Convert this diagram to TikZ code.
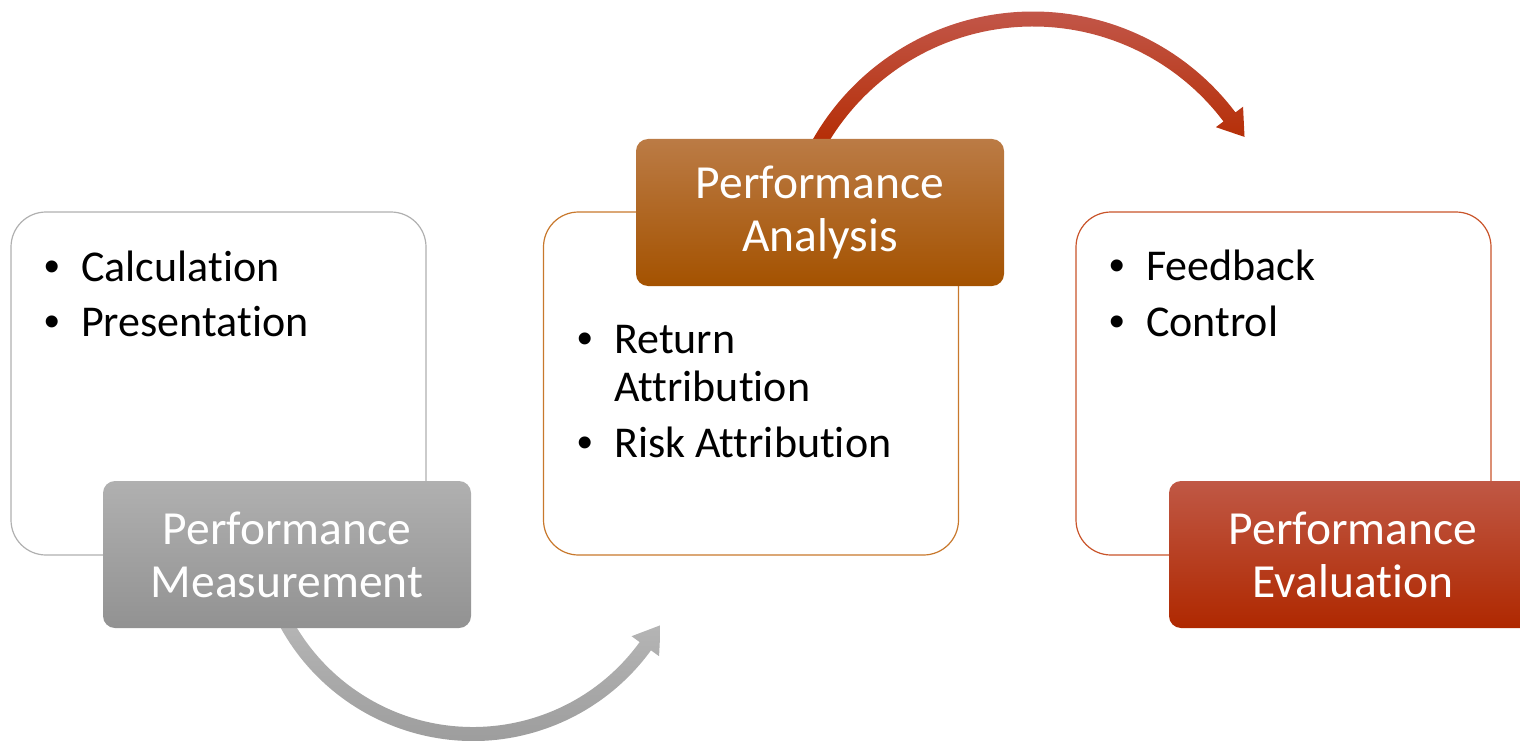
\documentclass[tikz,border=0pt]{standalone}
\usepackage{fontspec}
\setmainfont{Carlito}[Ligatures=NoCommon, RawFeature={-liga;-clig;-calt;-dlig}]
\newfontfamily\bulfont{Liberation Sans}
\usetikzlibrary{calc}
\definecolor{boxgrey}{HTML}{B0B0B0}
\definecolor{boxorange}{HTML}{C8782C}
\definecolor{boxred}{HTML}{C9542A}
\definecolor{mtop}{HTML}{B0B0B0}
\definecolor{mbot}{HTML}{929292}
\definecolor{atop}{HTML}{BB7B45}
\definecolor{amid}{HTML}{B36000}
\definecolor{abot}{HTML}{A45200}
\definecolor{etop}{HTML}{C05845}
\definecolor{emid}{HTML}{BA3200}
\definecolor{ebot}{HTML}{AF2800}
\definecolor{gatop}{HTML}{B8B8B8}
\definecolor{gabot}{HTML}{979797}
\definecolor{ratop}{HTML}{C2574A}
\definecolor{rabot}{HTML}{B42A00}
\newcommand\mybul{\makebox[37pt][l]{{\bulfont •}}}
\begin{document}
\begin{tikzpicture}[x=1pt,y=-1pt,
  box/.style={draw, line width=1.2pt, fill=white, rounded corners=35pt,
    minimum width=415pt, minimum height=343pt, inner sep=0pt},
  lab/.style={rounded corners=12pt, minimum width=368pt, minimum height=147pt,
    text=white, font=\fontsize{47.5}{53}\selectfont, align=center, inner sep=0pt},
  item/.style={anchor=base west, inner sep=0pt, font=\fontsize{44}{48}\selectfont}]
\clip (0,0) rectangle (1520,741);
% content boxes
\node[box, draw=boxgrey] (m) at (218.5,383.5) {};
\node[box, draw=boxorange] (a) at (751,383.5) {};
\node[box, draw=boxred] (e) at (1283.5,383.5) {};
% bullet texts
\node[item] (m1) at (44,281) {\mybul Calculation};
\node[item] (m2) at (44,336) {\mybul Presentation};
\node[item] (a1) at (577,353) {\mybul Return};
\node[item] (a1b) at (614,401) {Attribution};
\node[item] (a2) at (577,457) {\mybul Risk Attribution};
\node[item] (e1) at (1109,280) {\mybul Feedback};
\node[item] (e2) at (1109,336) {\mybul Control};
% curved arrows
\coordinate (gc) at (473,521);
\shade[top color=gatop, bottom color=gabot]
  ($(gc)+(155:220)$) arc[start angle=155, end angle=36, radius=220]
  -- ($(gc)+(36:230)$) -- ($(gc)+(36:213)+(-54:26)$) -- ($(gc)+(36:196)$)
  -- ($(gc)+(36:206)$) arc[start angle=36, end angle=155, radius=206] -- cycle;
\coordinate (rc) at (1033,265);
\shade[top color=ratop, bottom color=rabot]
  ($(rc)+(-152:253.5)$) arc[start angle=-152, end angle=-37, radius=253.5]
  -- ($(rc)+(-37:263)$) -- ($(rc)+(-37:246)+(53:25)$) -- ($(rc)+(-37:229)$)
  -- ($(rc)+(-37:238.5)$) arc[start angle=-37, end angle=-152, radius=238.5] -- cycle;
% labels
\node[lab, top color=mtop, bottom color=mbot] (ml) at (287,554.5) {Performance\\Measurement};
\node[lab, top color=atop, middle color=amid, bottom color=abot] (al) at (820,212.5) {Performance\\Analysis};
\node[lab, top color=etop, middle color=emid, bottom color=ebot] (el) at (1353,554.5) {Performance\\Evaluation};
\end{tikzpicture}
\end{document}
